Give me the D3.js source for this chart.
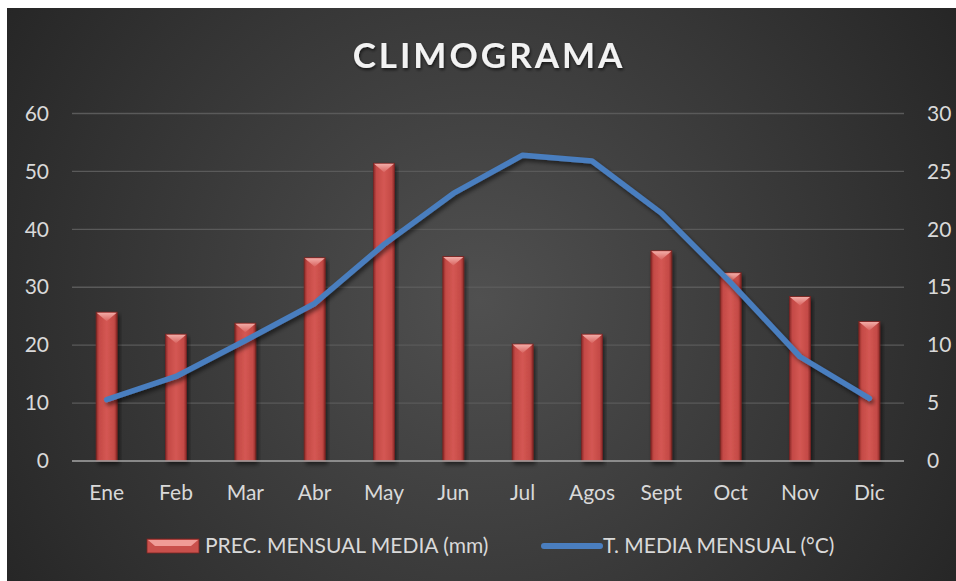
<!DOCTYPE html>
<html>
<head>
<meta charset="utf-8">
<script src="https://cdn.jsdelivr.net/npm/d3@7"></script>
<style>
html,body{margin:0;padding:0;background:#fff;}
svg{display:block;}
</style>
</head>
<body>
<svg id="chart" width="956" height="581"></svg>
<script>
const months = ["Ene","Feb","Mar","Abr","May","Jun","Jul","Agos","Sept","Oct","Nov","Dic"];
const precipitation = [25.7,21.9,23.8,35.1,51.4,35.3,20.2,21.9,36.3,32.5,28.4,24.1];
const temperature = [5.3,7.3,10.4,13.6,18.7,23.1,26.4,25.9,21.4,15.4,9.0,5.4];
const leftTicks = [0,10,20,30,40,50,60];
const rightTicks = [0,5,10,15,20,25,30];
const titleText = "CLIMOGRAMA";
const legendLabels = ["PREC. MENSUAL MEDIA (mm)","T. MEDIA MENSUAL (°C)"];

const svg = d3.select("#chart");
const W = 956, H = 581;
const font = "Lato, 'Open Sans', 'DejaVu Sans', sans-serif";
const defs = svg.append("defs");

const bg = defs.append("radialGradient").attr("id","bg")
  .attr("gradientUnits","userSpaceOnUse").attr("cx",480).attr("cy",300).attr("r",560);
bg.append("stop").attr("offset","0%").attr("stop-color","#505050");
bg.append("stop").attr("offset","100%").attr("stop-color","#262626");

const barG = defs.append("linearGradient").attr("id","barG").attr("x1","0").attr("x2","1").attr("y1","0").attr("y2","0");
[["0%","#8a2826"],["14%","#c44a46"],["50%","#d45753"],["86%","#c44a46"],["100%","#8a2826"]]
  .forEach(([o,c])=>barG.append("stop").attr("offset",o).attr("stop-color",c));
const capG = defs.append("linearGradient").attr("id","capG").attr("x1","0").attr("x2","0").attr("y1","0").attr("y2","1");
capG.append("stop").attr("offset","0%").attr("stop-color","#f2aca7");
capG.append("stop").attr("offset","100%").attr("stop-color","#d9635f");

const sh = defs.append("filter").attr("id","shadow").attr("x","-20%").attr("y","-20%").attr("width","140%").attr("height","140%");
sh.append("feDropShadow").attr("dx",2).attr("dy",3).attr("stdDeviation",2).attr("flood-color","#000").attr("flood-opacity",0.55);
const tsh = defs.append("filter").attr("id","tshadow").attr("x","-10%").attr("y","-20%").attr("width","120%").attr("height","160%");
tsh.append("feDropShadow").attr("dx",1).attr("dy",2).attr("stdDeviation",1.5).attr("flood-color","#000").attr("flood-opacity",0.6);

svg.append("rect").attr("x",7).attr("y",8).attr("width",W-7).attr("height",H-8).attr("fill","url(#bg)");

const x0 = 72, x1 = 904, yTop = 113.5, yBot = 461;
const x = d3.scaleBand().domain(months).range([x0,x1]).paddingInner(0).paddingOuter(0);
const yL = d3.scaleLinear().domain([0,60]).range([yBot,yTop]);
const yR = d3.scaleLinear().domain([0,30]).range([yBot,yTop]);

svg.append("text").attr("x",489).attr("y",68).attr("text-anchor","middle")
  .attr("font-family",font).attr("font-weight","bold").attr("font-size",35)
  .attr("letter-spacing",3)
  .attr("fill","#f2f2f2").attr("filter","url(#tshadow)").text(titleText);

svg.append("g").selectAll("line").data(leftTicks.filter(d=>d>0)).join("line")
  .attr("x1",x0).attr("x2",x1).attr("y1",d=>yL(d)).attr("y2",d=>yL(d))
  .attr("stroke","#5a5a5a").attr("stroke-width",1.3);

const axL = svg.append("g").attr("transform",`translate(${x0},0)`)
  .call(d3.axisLeft(yL).tickValues(leftTicks).tickSize(0).tickPadding(23));
axL.select(".domain").remove();
axL.selectAll("text").attr("font-family",font).attr("font-size",21).attr("fill","#d9d9d9");

const axR = svg.append("g").attr("transform",`translate(${x1},0)`)
  .call(d3.axisRight(yR).tickValues(rightTicks).tickSize(0).tickPadding(23));
axR.select(".domain").remove();
axR.selectAll("text").attr("font-family",font).attr("font-size",21).attr("fill","#d9d9d9");

const bw = 21;
const bars = svg.append("g").selectAll("g").data(months.map((m,i)=>({m,v:precipitation[i]}))).join("g")
  .attr("filter","url(#shadow)");
bars.append("rect").attr("x",d=>x(d.m)+x.bandwidth()/2-bw/2).attr("y",d=>yL(d.v))
  .attr("width",bw).attr("height",d=>yBot-yL(d.v)).attr("fill","url(#barG)")
  .attr("stroke","#7a2422").attr("stroke-width",0.8);
bars.append("path").attr("d",d=>{
  const cx = x(d.m)+x.bandwidth()/2, t = yL(d.v);
  return `M${cx-bw/2+0.5},${t+0.5} L${cx+bw/2-0.5},${t+0.5} L${cx},${t+9} Z`;
}).attr("fill","url(#capG)");

svg.append("line").attr("x1",x0).attr("x2",x1).attr("y1",yBot).attr("y2",yBot)
  .attr("stroke","#a6a6a6").attr("stroke-width",1.6);

const axB = svg.append("g").attr("transform",`translate(0,${yBot})`)
  .call(d3.axisBottom(x).tickSize(0).tickPadding(24));
axB.select(".domain").remove();
axB.selectAll("text").attr("font-family",font).attr("font-size",21).attr("fill","#d9d9d9");

const line = d3.line().x((d,i)=>x(months[i])+x.bandwidth()/2).y(d=>yR(d));
svg.append("path").datum(temperature).attr("d",line).attr("fill","none")
  .attr("stroke","#4a7ebf").attr("stroke-width",5.5).attr("stroke-linejoin","round").attr("stroke-linecap","round")
  .attr("filter","url(#shadow)");

const lg = svg.append("g");
lg.append("rect").attr("x",147).attr("y",539).attr("width",52).attr("height",14)
  .attr("fill","#c9504c").attr("stroke","#7a2422").attr("stroke-width",0.8);
lg.append("path").attr("d","M148,540 L198,540 L191,546 L155,546 Z").attr("fill","#f09c97");
lg.append("text").attr("x",205).attr("y",553).attr("font-family",font).attr("font-size",21)
  .attr("fill","#d9d9d9").text(legendLabels[0]);
lg.append("line").attr("x1",544).attr("x2",600).attr("y1",546).attr("y2",546)
  .attr("stroke","#4a7ebf").attr("stroke-width",6).attr("stroke-linecap","round");
lg.append("text").attr("x",603).attr("y",553).attr("font-family",font).attr("font-size",21)
  .attr("fill","#d9d9d9").text(legendLabels[1]);
</script>
</body>
</html>
